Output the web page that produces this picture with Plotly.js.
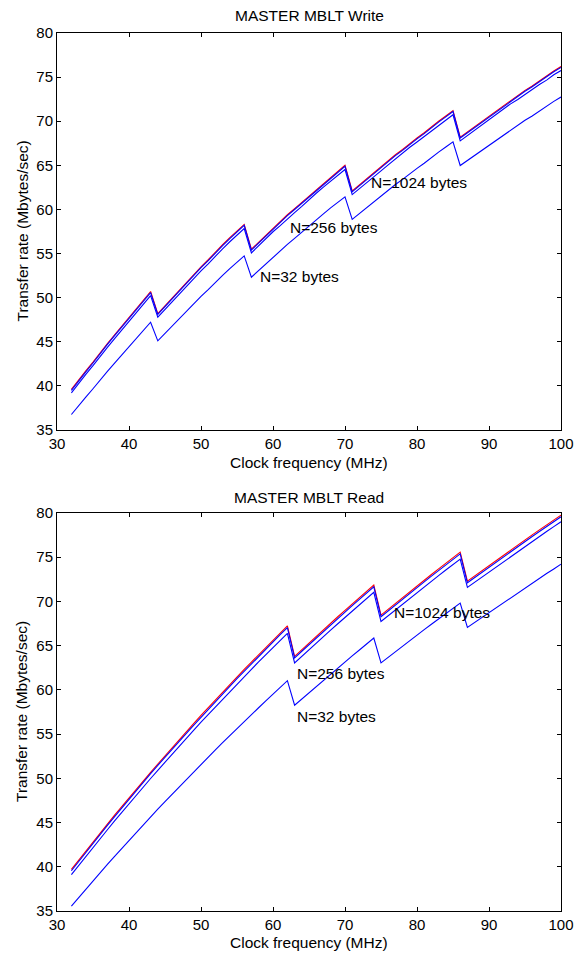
<!DOCTYPE html>
<html>
<head>
<meta charset="utf-8">
<script src="https://cdn.plot.ly/plotly-3.0.1.min.js"></script>
<style>html,body{margin:0;padding:0;background:#fff;}#chart{width:586px;height:954px;}</style>
</head>
<body>
<div id="chart"></div>
<script>
// Clock frequency (MHz)
const freq = [32,33,34,35,36,37,38,39,40,41,42,43,44,45,46,47,48,49,50,51,52,53,54,55,56,57,58,59,60,61,62,63,64,65,66,67,68,69,70,71,72,73,74,75,76,77,78,79,80,81,82,83,84,85,86,87,88,89,90,91,92,93,94,95,96,97,98,99,100];

// MASTER MBLT Write (Mbytes/sec)
const writeLimit = [39.6,40.7,41.7,42.7,43.8,44.8,45.8,46.8,47.8,48.8,49.7,50.7,
  48.2,49.1,50.0,50.9,51.8,52.6,53.5,54.3,55.2,56.0,56.8,57.6,58.3,
  55.5,56.3,57.1,57.9,58.6,59.4,60.1,60.8,61.5,62.3,63.0,63.7,64.4,65.0,
  62.1,62.8,63.5,64.2,64.8,65.5,66.2,66.8,67.5,68.1,68.7,69.4,70.0,70.6,71.2,
  68.2,68.8,69.4,70.0,70.6,71.2,71.8,72.4,72.9,73.5,74.0,74.6,75.1,75.7,76.2];
const write1024 = [39.50,40.60,41.60,42.60,43.70,44.70,45.69,46.69,47.69,48.69,49.59,50.58,
  48.1,49.0,49.9,50.8,51.7,52.5,53.4,54.2,55.1,55.9,56.7,57.5,58.2,
  55.4,56.2,57.0,57.8,58.5,59.3,60.0,60.7,61.4,62.2,62.9,63.6,64.3,64.9,
  62.0,62.7,63.4,64.1,64.7,65.4,66.1,66.7,67.4,68.0,68.6,69.3,69.9,70.5,71.1,
  68.1,68.7,69.3,69.9,70.5,71.1,71.7,72.3,72.8,73.4,73.9,74.5,75.0,75.6,76.1];
const write256 = [39.22,40.31,41.30,42.29,43.38,44.37,45.36,46.35,47.34,48.34,49.24,50.23,
  47.79,48.68,49.57,50.46,51.35,52.15,53.04,53.84,54.74,55.54,56.34,57.14,57.83,
  55.08,55.88,56.67,57.47,58.16,58.96,59.65,60.35,61.04,61.84,62.54,63.23,63.93,64.53,
  61.68,62.38,63.07,63.77,64.37,65.06,65.76,66.36,67.05,67.65,68.25,68.94,69.54,70.14,70.73,
  67.78,68.38,68.98,69.58,70.17,70.77,71.37,71.97,72.47,73.06,73.56,74.16,74.66,75.26,75.75];
const write32 = [36.76,37.79,38.73,39.68,40.70,41.65,42.59,43.54,44.48,45.42,46.28,47.22,
  45.11,45.97,46.82,47.67,48.53,49.29,50.15,50.91,51.77,52.53,53.30,54.06,54.74,
  52.32,53.08,53.84,54.61,55.28,56.04,56.72,57.39,58.07,58.83,59.50,60.18,60.85,61.43,
  58.88,59.55,60.23,60.90,61.48,62.15,62.83,63.41,64.08,64.66,65.24,65.91,66.50,67.08,67.66,
  64.98,65.56,66.14,66.72,67.30,67.88,68.46,69.04,69.53,70.11,70.60,71.18,71.67,72.25,72.74];

// MASTER MBLT Read (Mbytes/sec)
const readLimit = [39.70,40.75,41.78,42.81,43.82,44.83,45.83,46.82,47.79,48.76,49.72,50.68,51.62,52.56,53.48,54.40,55.31,56.21,57.11,57.99,58.87,59.74,60.61,61.46,62.31,63.15,63.98,64.81,65.63,66.45,67.25,
  63.80,64.56,65.31,66.06,66.80,67.54,68.27,69.00,69.72,70.43,71.14,71.85,
  68.46,69.13,69.79,70.45,71.11,71.76,72.41,73.05,73.69,74.32,74.95,75.57,
  72.29,72.88,73.48,74.06,74.65,75.23,75.81,76.38,76.95,77.53,78.09,78.65,79.20,79.76];
const read1024 = [39.55,40.60,41.63,42.66,43.67,44.68,45.68,46.67,47.64,48.61,49.57,50.53,51.47,52.41,53.33,54.20,55.11,56.01,56.91,57.79,58.67,59.54,60.41,61.26,62.11,62.95,63.78,64.61,65.43,66.25,67.05,
  63.61,64.37,65.12,65.87,66.61,67.35,68.08,68.81,69.53,70.24,70.95,71.66,
  68.28,68.95,69.61,70.27,70.93,71.57,72.22,72.86,73.50,74.13,74.76,75.38,
  72.11,72.70,73.30,73.88,74.47,75.05,75.63,76.20,76.77,77.35,77.90,78.46,79.01,79.57];
const read256 = [39.12,40.16,41.18,42.20,43.19,44.19,45.18,46.16,47.12,48.08,49.03,49.98,50.91,51.84,52.75,53.66,54.56,55.45,56.35,57.22,58.09,58.95,59.81,60.66,61.50,62.33,63.16,63.98,64.79,65.61,66.40,
  63.04,63.80,64.54,65.28,66.02,66.75,67.48,68.20,68.92,69.62,70.33,71.03,
  67.73,68.39,69.05,69.70,70.36,71.01,71.65,72.29,72.92,73.55,74.17,74.79,
  71.59,72.17,72.77,73.34,73.93,74.51,75.09,75.65,76.22,76.80,77.35,77.91,78.46,79.01];
const read32 = [35.56,36.52,37.46,38.41,39.33,40.26,41.17,42.08,42.98,43.87,44.75,45.64,46.51,47.37,48.22,49.07,49.92,50.75,51.59,52.40,53.22,54.03,54.84,55.63,56.42,57.21,57.98,58.76,59.53,60.29,61.04,
  58.27,58.98,59.69,60.39,61.09,61.79,62.47,63.16,63.84,64.51,65.18,65.86,
  63.06,63.70,64.32,64.95,65.58,66.19,66.81,67.42,68.03,68.63,69.23,69.82,
  67.07,67.63,68.20,68.76,69.32,69.87,70.43,70.97,71.52,72.07,72.61,73.15,73.67,74.21];

const titles = ["MASTER MBLT Write", "MASTER MBLT Read"];
const xTitle = "Clock frequency (MHz)";
const yTitle = "Transfer rate (Mbytes/sec)";
const labels = ["N=1024 bytes", "N=256 bytes", "N=32 bytes"];
const writeLabelPos = [[73.3, 63.1], [62.1, 58.0], [57.9, 52.4]];
const readLabelPos = [[76.5, 68.8], [63.1, 61.8], [63.0, 57.0]];

const RED = "#ff0000", BLUE = "#0000ff";
const FONT = "Liberation Sans, Arial, Helvetica, sans-serif";
const TXT = 15.5, TICK = 15;

function tr(y, color, xa, ya) {
  return {x: freq, y: y, type: "scatter", mode: "lines", xaxis: xa, yaxis: ya,
    line: {color: color, width: 1.1}, hoverinfo: "skip", showlegend: false};
}
const data = [
  tr(writeLimit, RED, "x", "y"), tr(write1024, BLUE, "x", "y"), tr(write256, BLUE, "x", "y"), tr(write32, BLUE, "x", "y"),
  tr(readLimit, RED, "x2", "y2"), tr(read1024, BLUE, "x2", "y2"), tr(read256, BLUE, "x2", "y2"), tr(read32, BLUE, "x2", "y2")
];

function axis(extra) {
  return Object.assign({
    showline: true, linecolor: "#000", linewidth: 1, mirror: "ticks",
    ticks: "inside", ticklen: 4, tickwidth: 1, tickcolor: "#000",
    showgrid: false, zeroline: false, fixedrange: true,
    tickfont: {family: FONT, size: TICK, color: "#000"}
  }, extra);
}

const topDom = [0.5478, 1], botDom = [0, 0.4533];
const ann = [];
function txt(text, x, y, xref, yref, opts) {
  ann.push(Object.assign({text: text, x: x, y: y, xref: xref, yref: yref, showarrow: false,
    font: {family: FONT, size: TXT, color: "#000"}}, opts || {}));
}
txt(titles[0], 0.5, 1.0194, "paper", "paper", {xanchor: "center", yanchor: "middle"});
txt(titles[1], 0.5, 0.4715, "paper", "paper", {xanchor: "center", yanchor: "middle"});
txt(xTitle, 0.5, 0.5103, "paper", "paper", {xanchor: "center", yanchor: "middle"});
txt(xTitle, 0.5, -0.0364, "paper", "paper", {xanchor: "center", yanchor: "middle"});
txt(yTitle, -0.0694, 0.774, "paper", "paper", {xanchor: "center", yanchor: "middle", textangle: -90});
txt(yTitle, -0.0694, 0.2267, "paper", "paper", {xanchor: "center", yanchor: "middle", textangle: -90});
for (let i = 0; i < labels.length; i++) {
  txt(labels[i], writeLabelPos[i][0], writeLabelPos[i][1], "x", "y", {xanchor: "left", yanchor: "middle"});
  txt(labels[i], readLabelPos[i][0], readLabelPos[i][1], "x2", "y2", {xanchor: "left", yanchor: "middle"});
}

const layout = {
  width: 586, height: 954,
  margin: {l: 57, r: 25, t: 33, b: 43, pad: 0},
  paper_bgcolor: "#fff", plot_bgcolor: "#fff",
  showlegend: false,
  font: {family: FONT, size: TXT, color: "#000"},
  xaxis: axis({domain: [0, 1], anchor: "y", range: [30, 100], dtick: 10, tick0: 30}),
  yaxis: axis({domain: topDom, anchor: "x", range: [35, 80], dtick: 5, tick0: 35}),
  xaxis2: axis({domain: [0, 1], anchor: "y2", range: [30, 100], dtick: 10, tick0: 30}),
  yaxis2: axis({domain: botDom, anchor: "x2", range: [35, 80], dtick: 5, tick0: 35}),
  annotations: ann
};

Plotly.newPlot("chart", data, layout, {staticPlot: true, displayModeBar: false});
</script>
</body>
</html>
